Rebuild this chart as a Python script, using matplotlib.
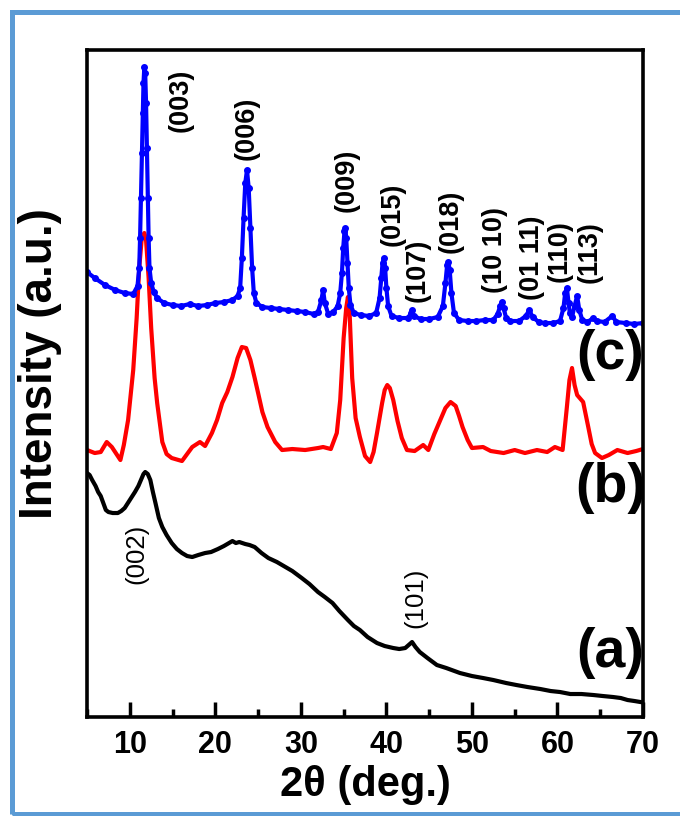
import matplotlib
matplotlib.use("Agg")
import matplotlib.pyplot as plt
from matplotlib import font_manager
from matplotlib.patches import Rectangle
from matplotlib.ticker import MultipleLocator

# intensity in arbitrary units (offset stacking already included)
c_two_theta = [5.0, 5.9, 7.1, 8.3, 9.4, 10.4, 10.9, 11.1, 11.2, 11.3, 11.4, 11.5, 11.6, 11.7,
               11.8, 11.9, 12.0, 12.1, 12.2, 12.3, 12.5, 12.8, 13.2, 14.0, 15.0, 16.0, 17.0,
               18.0, 19.0, 20.0, 21.0, 22.0, 22.6, 22.9, 23.1, 23.3, 23.5, 23.7, 23.9, 24.1,
               24.3, 24.5, 24.8, 25.5, 26.5, 27.5, 28.5, 29.5, 30.5, 31.5, 32.0, 32.4, 32.6,
               32.8, 33.2, 33.8, 34.3, 34.6, 34.8, 34.95, 35.1, 35.2, 35.3, 35.45, 35.6, 35.8,
               36.2, 37.0, 38.0, 38.8, 39.2, 39.4, 39.55, 39.7, 39.85, 40.0, 40.2, 40.6, 41.5,
               42.5, 42.9, 43.0, 43.2, 44.0, 45.0, 46.0, 46.6, 46.9, 47.1, 47.25, 47.4, 47.6,
               47.9, 48.5, 49.5, 50.5, 51.5, 52.5, 53.0, 53.3, 53.5, 53.7, 54.0, 54.5, 55.5,
               56.3, 56.7, 57.1, 57.8, 58.5, 59.5, 60.3, 60.7, 60.9, 61.1, 61.3, 61.45, 61.7,
               62.0, 62.3, 62.55, 62.9, 63.5, 64.2, 64.6, 65.5, 66.4, 66.9, 68.0, 69.0, 70.0]
c_intensity = [446, 440, 433, 428, 425, 424, 432, 450, 480, 520, 565, 605, 635, 651,
               645, 615, 570, 520, 480, 450, 435, 426, 420, 415, 413, 412, 414,
               412, 413, 415, 416, 418, 422, 430, 460, 500, 535, 548, 530, 490,
               450, 425, 415, 411, 410, 409, 408, 407, 406, 404, 406, 418, 428,
               415, 404, 406, 412, 425, 445, 470, 487, 490, 480, 455, 430, 413,
               405, 403, 402, 405, 420, 440, 455, 460, 450, 430, 412, 402, 400,
               400, 405, 408, 402, 399, 399, 401, 412, 435, 453, 456, 448, 425,
               405, 398, 397, 397, 398, 398, 404, 412, 416, 410, 400, 397, 397,
               402, 408, 401, 396, 395, 395, 397, 410, 425, 430, 415, 405, 401,
               412, 422, 408, 398, 396, 400, 397, 396, 402, 396, 395, 394, 395]

b_two_theta = [5.0, 5.9, 6.6, 7.3, 7.9, 8.9, 9.3, 9.8, 10.4, 10.8, 11.1, 11.4, 11.7, 11.9,
               12.2, 12.5, 12.9, 13.2, 13.8, 14.3, 14.9, 16.1, 17.3, 18.2, 18.8, 19.6, 20.2,
               20.8, 21.4, 22.0, 22.6, 23.1, 23.6, 24.1, 24.6, 25.0, 25.5, 26.1, 27.0, 27.8,
               29.0, 30.5, 32.0, 32.6, 33.5, 34.2, 34.6, 35.0, 35.3, 35.5, 35.7, 36.0, 36.4,
               36.9, 37.5, 38.1, 38.5, 38.9, 39.5, 39.8, 40.1, 40.4, 40.8, 41.3, 41.8, 42.4,
               43.3, 44.3, 44.9, 45.6, 46.3, 46.9, 47.5, 48.1, 48.5, 48.9, 49.5, 50.0, 51.3,
               52.2, 53.7, 55.0, 56.2, 57.6, 58.8, 59.7, 60.6, 61.1, 61.4, 61.7, 62.0, 62.3,
               63.0, 63.6, 64.0, 64.4, 65.2, 66.0, 67.0, 68.2, 69.2, 70.0]
b_intensity = [268, 265, 266, 276, 271, 258, 273, 298, 348, 400, 450, 480, 485, 478,
               440, 390, 340, 315, 276, 264, 260, 257, 271, 276, 272, 285, 298,
               315, 326, 341, 360, 371, 370, 358, 340, 325, 306, 291, 276, 268,
               269, 268, 270, 271, 269, 285, 318, 380, 410, 421, 405, 340, 300,
               281, 262, 256, 266, 285, 315, 328, 333, 330, 318, 297, 280, 268,
               267, 273, 268, 284, 298, 310, 316, 312, 302, 291, 278, 270, 271,
               267, 265, 268, 265, 268, 266, 271, 268, 311, 338, 350, 333, 323,
               316, 291, 274, 265, 260, 263, 268, 265, 267, 269]

a_two_theta = [5.0, 5.3, 5.6, 6.0, 6.3, 6.6, 6.9, 7.2, 7.5, 8.0, 8.6, 9.0, 9.4, 10.0,
               10.6, 11.0, 11.3, 11.6, 11.8, 12.1, 12.4, 12.7, 13.0, 13.4, 13.8, 14.3, 14.9,
               15.5, 16.1, 16.7, 17.3, 18.0, 18.8, 19.5, 20.3, 21.0, 21.6, 22.0, 22.4, 22.8,
               23.5, 24.0, 24.6, 25.4, 26.2, 27.2, 28.2, 29.0, 30.1, 31.0, 32.0, 32.8, 33.7,
               34.5, 35.5, 36.2, 36.9, 37.8, 38.9, 39.8, 40.8, 41.5, 42.2, 42.6, 43.0, 43.4,
               43.9, 44.8, 45.9, 47.0, 48.6, 50.0, 51.3, 52.5, 54.0, 55.2, 56.5, 58.0, 59.2,
               60.3, 61.5, 62.8, 64.2, 65.3, 66.5, 67.4, 68.2, 69.0, 69.7]
a_intensity = [245, 243, 238, 232, 226, 222, 215, 208, 206, 205, 205, 207, 210, 218,
               226, 232, 238, 244, 246, 244, 238, 226, 215, 200, 191, 183, 175,
               169, 165, 162, 161, 163, 165, 166, 169, 172, 175, 177, 175, 176,
               174, 173, 171, 165, 160, 156, 151, 147, 140, 134, 126, 121, 115,
               107, 98, 92, 88, 81, 75, 72, 70, 69, 70, 73, 76, 71,
               66, 60, 53, 50, 45, 42, 40, 38, 35, 33, 31, 29, 27,
               26, 24, 24, 23, 22, 21, 20, 18, 17, 16]

peak_labels = ["(003)", "(006)", "(009)", "(015)", "(107)", "(018)", "(10 10)", "(01 11)",
               "(110)", "(113)"]
peak_label_x = [15.9, 23.7, 35.4, 40.7, 43.6, 47.5, 52.7, 57.0, 60.3, 63.8]
peak_label_y = [618, 590, 538, 504, 448, 497, 468, 460, 467, 466]

carbon_labels = ["(002)", "(101)"]
carbon_label_x = [10.8, 43.4]
carbon_label_y = [164, 120]

curve_tags = ["(c)", "(b)", "(a)"]
curve_tag_y = [363, 230, 65]

installed = {f.name for f in font_manager.fontManager.ttflist}
base = "Liberation Sans" if "Liberation Sans" in installed else "DejaVu Sans"
plt.rcParams["font.family"] = [base, "DejaVu Sans"]

fig = plt.figure(figsize=(6.8, 8.16), dpi=100)
ax = fig.add_axes([0.128, 0.1213, 0.8176, 0.8174])

ax.plot(a_two_theta, a_intensity, color="black", linewidth=3.0)
ax.plot(b_two_theta, b_intensity, color="#FF0000", linewidth=3.0)
ax.plot(c_two_theta, c_intensity, color="#0000FF", linewidth=3.0,
        marker="o", markersize=4)

for text, x, y in zip(peak_labels, peak_label_x, peak_label_y):
    ax.text(x, y, text, rotation=90, ha="center", va="center",
            fontsize=19.5, fontweight="bold")
for text, x, y in zip(carbon_labels, carbon_label_x, carbon_label_y):
    ax.text(x, y, text, rotation=90, ha="center", va="center", fontsize=18.5)
for text, y in zip(curve_tags, curve_tag_y):
    ax.text(66.2, y, text, ha="center", va="center", fontsize=40, fontweight="bold")

ax.set_xlim(5, 70)
ax.set_ylim(1, 668)
ax.xaxis.set_major_locator(MultipleLocator(10))
ax.xaxis.set_minor_locator(MultipleLocator(5))
ax.set_yticks([])
ax.tick_params(axis="x", which="major", direction="in", length=11, width=2.5, pad=9,
               labelsize=22)
ax.tick_params(axis="x", which="minor", direction="in", length=6, width=2.5)
for lab in ax.get_xticklabels():
    lab.set_fontweight("bold")
for s in ax.spines.values():
    s.set_linewidth(2.6)

ax.set_xlabel("2θ (deg.)", fontsize=30, fontweight="bold")
ax.xaxis.set_label_coords(0.5, -0.072)
ax.set_ylabel("Intensity (a.u.)", fontsize=33, fontweight="bold")
ax.yaxis.set_label_coords(-0.045, 0.53)

fig.add_artist(Rectangle((0.0176, 0.0025), 1.1, 0.9825, transform=fig.transFigure,
                         fill=False, edgecolor="#5B9BD5", linewidth=3.6, clip_on=False))

fig.savefig("out.png", dpi=100)
